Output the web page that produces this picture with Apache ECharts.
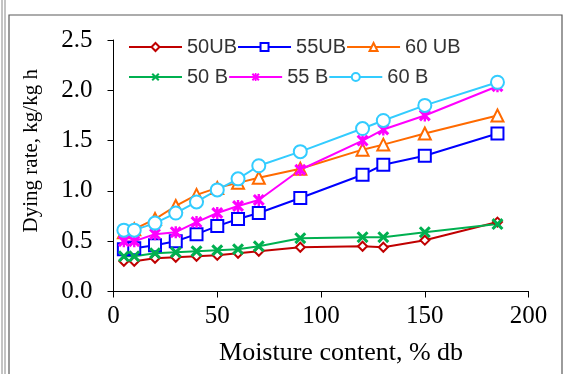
<!DOCTYPE html>
<html>
<head>
<meta charset="utf-8">
<script src="https://cdn.jsdelivr.net/npm/echarts@6/dist/echarts.min.js"></script>
<style>
html,body{margin:0;padding:0;background:#fff;}
#chart{width:565px;height:374px;}
</style>
</head>
<body>
<div id="chart"></div>
<script>
// Moisture content (% db)
var moisture = [5, 10, 20, 30, 40, 50, 60, 70, 90, 120, 130, 150, 185];
var seriesNames = ['50UB', '55UB', '60 UB', '50 B', '55 B', '60 B'];
var rate50UB = [0.30, 0.30, 0.33, 0.34, 0.35, 0.36, 0.38, 0.40, 0.44, 0.45, 0.44, 0.51, 0.69];
var rate55UB = [0.42, 0.43, 0.46, 0.50, 0.57, 0.65, 0.72, 0.78, 0.93, 1.16, 1.26, 1.35, 1.57];
var rate60UB = [0.59, 0.62, 0.72, 0.85, 0.96, 1.03, 1.08, 1.13, 1.22, 1.41, 1.46, 1.57, 1.75];
var rate50B  = [0.35, 0.35, 0.38, 0.39, 0.40, 0.41, 0.42, 0.45, 0.53, 0.54, 0.54, 0.59, 0.67];
var rate55B  = [0.50, 0.50, 0.57, 0.59, 0.69, 0.78, 0.85, 0.91, 1.21, 1.50, 1.61, 1.75, 2.04];
var rate60B  = [0.61, 0.61, 0.68, 0.78, 0.89, 1.01, 1.12, 1.25, 1.39, 1.62, 1.70, 1.85, 2.08];
var xTicks = [0, 50, 100, 150, 200];
var yTicks = [0.0, 0.5, 1.0, 1.5, 2.0, 2.5];

var allRates = [rate50UB, rate55UB, rate60UB, rate50B, rate55B, rate60B];
var colors = ['#C00000', '#0000FF', '#FF6A00', '#00B050', '#FF00FF', '#33CCFF'];
var xPath = 'path://M1.8,0 L5,3.2 L8.2,0 L10,1.8 L6.8,5 L10,8.2 L8.2,10 L5,6.8 L1.8,10 L0,8.2 L3.2,5 L0,1.8 Z';
var starPath = 'path://M1.8,0 L5,3.2 L8.2,0 L10,1.8 L6.8,5 L10,8.2 L8.2,10 L5,6.8 L1.8,10 L0,8.2 L3.2,5 L0,1.8 Z M4.0,0 L6.0,0 L6.0,10 L4.0,10 Z';
var symbols = ['diamond', 'rect', 'triangle', xPath, starPath, 'circle'];
var sizes = [9, 12, 12, 12, 12, 13];
var hollow = [true, true, true, false, false, true];

function pairs(xs, ys) { return xs.map(function (x, i) { return [x, ys[i]]; }); }

var series = seriesNames.map(function (n, i) {
  return {
    name: n,
    type: 'line',
    data: pairs(moisture, allRates[i]),
    symbol: symbols[i],
    symbolSize: sizes[i],
    showAllSymbol: true,
    lineStyle: { color: colors[i], width: 2 },
    itemStyle: hollow[i]
      ? { color: '#fff', borderColor: colors[i], borderWidth: 2 }
      : { color: colors[i], borderWidth: 0 },
    emphasis: { disabled: true },
    animation: false
  };
});

var legendCommon = {
  orient: 'horizontal',
  padding: 0,
  itemWidth: 53,
  itemHeight: 10,
  itemGap: 0,
  left: 128,
  textStyle: { fontFamily: 'Liberation Sans, Arial', fontSize: 20, color: '#333', width: 80 },
  selectedMode: false
};

var chart = echarts.init(document.getElementById('chart'), null, { renderer: 'canvas' });
chart.setOption({
  backgroundColor: '#fff',
  animation: false,
  color: colors,
  grid: { left: 113.5, right: 36.4, top: 40, bottom: 82.5, containLabel: false },
  legend: [
    Object.assign({}, legendCommon, { top: 37, data: seriesNames.slice(0, 3) }),
    Object.assign({}, legendCommon, { top: 67, data: seriesNames.slice(3) })
  ],
  xAxis: {
    type: 'value', min: xTicks[0], max: xTicks[xTicks.length - 1], interval: 50,
    name: 'Moisture content, % db', nameLocation: 'middle', nameGap: 49,
    nameTextStyle: { fontFamily: 'Liberation Serif, Times New Roman', fontSize: 26, color: '#000', padding: [0, 0, 0, 40] },
    axisLine: { show: true, onZero: false, lineStyle: { color: '#000', width: 1 } },
    axisTick: { show: true, length: 6, inside: false, lineStyle: { color: '#000' } },
    axisLabel: { fontFamily: 'Liberation Serif, Times New Roman', fontSize: 25, color: '#000', margin: 12 },
    splitLine: { show: false }
  },
  yAxis: {
    type: 'value', min: yTicks[0], max: yTicks[yTicks.length - 1], interval: 0.5,
    name: 'Dying rate, kg/kg h', nameLocation: 'middle', nameGap: 72, nameRotate: 90,
    nameTextStyle: { fontFamily: 'Liberation Serif, Times New Roman', fontSize: 21, color: '#000', padding: [0, 0, 0, 30] },
    axisLine: { show: true, lineStyle: { color: '#000', width: 1 } },
    axisTick: { show: true, length: 6, inside: false, lineStyle: { color: '#000' } },
    axisLabel: { fontFamily: 'Liberation Serif, Times New Roman', fontSize: 25, color: '#000', margin: 21,
      formatter: function (v) { return v.toFixed(1); } },
    splitLine: { show: false }
  },
  graphic: [
    { type: 'rect', shape: { x: 9, y: 15, width: 553, height: 380 }, style: { fill: 'none', stroke: '#5a5a5a', lineWidth: 1.2 }, z: -1 },
    { type: 'line', shape: { x1: 2, y1: 0, x2: 2, y2: 374 }, style: { stroke: '#888', lineWidth: 1 } },
    { type: 'line', shape: { x1: 5, y1: 0, x2: 5, y2: 374 }, style: { stroke: '#888', lineWidth: 1 } }
  ],
  series: series
});
</script>
</body>
</html>
